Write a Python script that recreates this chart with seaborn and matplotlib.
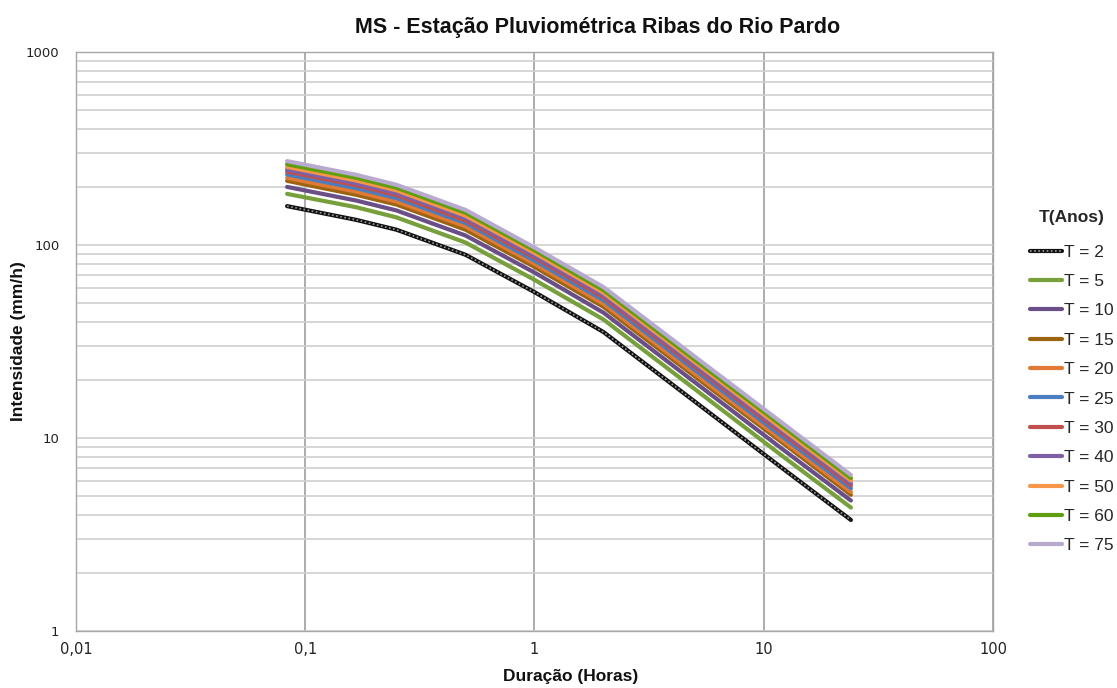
import numpy as np
import pandas as pd
import matplotlib
matplotlib.use("Agg")
import matplotlib.pyplot as plt
from matplotlib.ticker import LogLocator, FixedLocator, FixedFormatter, NullFormatter
from matplotlib.legend_handler import HandlerTuple
from matplotlib.lines import Line2D
import seaborn as sns

# ---------------- data ----------------
durations_h = [5/60, 10/60, 15/60, 30/60, 1, 2, 6, 12, 24]
t_labels = ["T = 2", "T = 5", "T = 10", "T = 15", "T = 20", "T = 25",
            "T = 30", "T = 40", "T = 50", "T = 60", "T = 75"]
t2 = [159, 135, 120, 89, 57, 35.4, 13.1, 7.0, 3.76]
t5 = [184, 157, 139, 103, 66, 41.1, 15.2, 8.1, 4.36]
t10 = [200, 170, 151, 112, 72, 44.6, 16.5, 8.8, 4.74]
t15 = [215, 182, 162, 120, 77, 47.8, 17.7, 9.5, 5.08]
t20 = [223, 189, 168, 125, 80, 49.6, 18.3, 9.8, 5.26]
t25 = [232, 197, 175, 130, 83, 51.7, 19.1, 10.2, 5.49]
t30 = [240, 204, 181, 134, 86, 53.5, 19.8, 10.6, 5.68]
t40 = [246, 209, 186, 138, 88, 54.9, 20.3, 10.9, 5.83]
t50 = [254, 216, 192, 142, 91, 56.6, 21.0, 11.2, 6.02]
t60 = [262, 223, 198, 147, 94, 58.4, 21.6, 11.6, 6.20]
t75 = [272, 231, 205, 152, 97, 60.5, 22.4, 12.0, 6.43]
series = [t2, t5, t10, t15, t20, t25, t30, t40, t50, t60, t75]
x_tick_vals = [0.01, 0.1, 1, 10, 100]
x_tick_labels = ["0,01", "0,1", "1", "10", "100"]
y_tick_vals = [1, 10, 100, 1000]
y_tick_labels = ["1", "10", "100", "1000"]

colors = ["#111111", "#77A03C", "#6A4E86", "#9C6410", "#E07A35", "#4A7EC0",
          "#C0504D", "#7E60A8", "#F79646", "#5E9E10", "#B8A9CF"]

rows = []
for lab, vals in zip(t_labels, series):
    for d, v in zip(durations_h, vals):
        rows.append({"dur": d, "val": v, "T": lab})
df = pd.DataFrame(rows)

sns.set_theme(style="white")
plt.rcParams["font.family"] = ["Liberation Sans", "DejaVu Sans"]

fig = plt.figure(figsize=(11.17, 6.88), dpi=100)
ax = fig.add_axes([76/1117, 1 - 631/688, (993-76)/1117, (631-52)/688])

ax.set_xscale("log")
ax.set_yscale("log")
ax.set_xlim(0.01, 100)
ax.set_ylim(1, 1000)

# gridlines
ax.yaxis.set_major_locator(FixedLocator(y_tick_vals))
ax.yaxis.set_minor_locator(LogLocator(base=10, subs=np.arange(2, 10)))
ax.yaxis.set_minor_formatter(NullFormatter())
ax.xaxis.set_major_locator(FixedLocator(x_tick_vals))
ax.xaxis.set_minor_locator(FixedLocator([]))
ax.grid(True, which="major", axis="x", color="#9E9E9E", lw=1.2)
ax.grid(True, which="both", axis="y", color="#CFCFCF", lw=1.2)
ax.set_axisbelow(True)

palette = dict(zip(t_labels, colors))
sns.lineplot(data=df, x="dur", y="val", hue="T", palette=palette,
             hue_order=t_labels, ax=ax, lw=3, legend=False, sort=False)
# textured overlay for T = 2
ax.plot(durations_h, t2, color="#9A9A9A", lw=1.2, ls=(0, (1, 1.5)), zorder=3)

ax.xaxis.set_major_formatter(FixedFormatter(x_tick_labels))
ax.yaxis.set_major_formatter(FixedFormatter(y_tick_labels))
ax.tick_params(axis="both", which="both", length=0)
ax.tick_params(axis="x", pad=8)
ax.tick_params(axis="y", pad=12)
for lbl in ax.get_xticklabels():
    lbl.set_fontfamily(["Liberation Sans Narrow", "DejaVu Sans"])
    lbl.set_fontsize(10.5)
    lbl.set_color("#222222")
for lbl in ax.get_yticklabels():
    lbl.set_fontfamily(["DejaVu Sans"])
    lbl.set_fontsize(9.5)
    lbl.set_color("#222222")

for s in ax.spines.values():
    s.set_color("#A6A6A6")
    s.set_linewidth(1.0)

ax.set_xlabel("")
ax.set_ylabel("")
fig.text(571/1117, 1 - 677/688, "Duração (Horas)", ha="center", va="center",
         fontsize=12.5, fontweight="bold", color="#111111")
fig.text(19/1117, 1 - 341/688, "Intensidade (mm/h)", ha="center", va="center",
         rotation=90, fontsize=12.5, fontweight="bold", color="#111111")
fig.text(598/1117, 1 - 28/688, "MS - Estação Pluviométrica Ribas do Rio Pardo",
         ha="center", va="center", fontsize=15.5, fontweight="bold", color="#111111")

# legend
handles = []
for lab, c in zip(t_labels, colors):
    if lab == "T = 2":
        h = (Line2D([], [], color=c, lw=3),
             Line2D([], [], color="#9A9A9A", lw=1.2, ls=(0, (1, 1.5))))
    else:
        h = Line2D([], [], color=c, lw=3)
    handles.append(h)
leg = fig.legend(handles, t_labels, loc="upper left",
                 bbox_to_anchor=(1030/1117, 1 - 210/688), frameon=False,
                 title="T(Anos)", fontsize=12.5, handlelength=1.85,
                 handletextpad=0.08, labelspacing=0.82, borderpad=0,
                 borderaxespad=0,
                 handler_map={tuple: HandlerTuple(ndivide=1, pad=0)})
leg.get_title().set_fontweight("bold")
leg.get_title().set_fontsize(12.5)
leg._legend_box.sep = 14

fig.savefig("out.png", dpi=100, facecolor="white")
